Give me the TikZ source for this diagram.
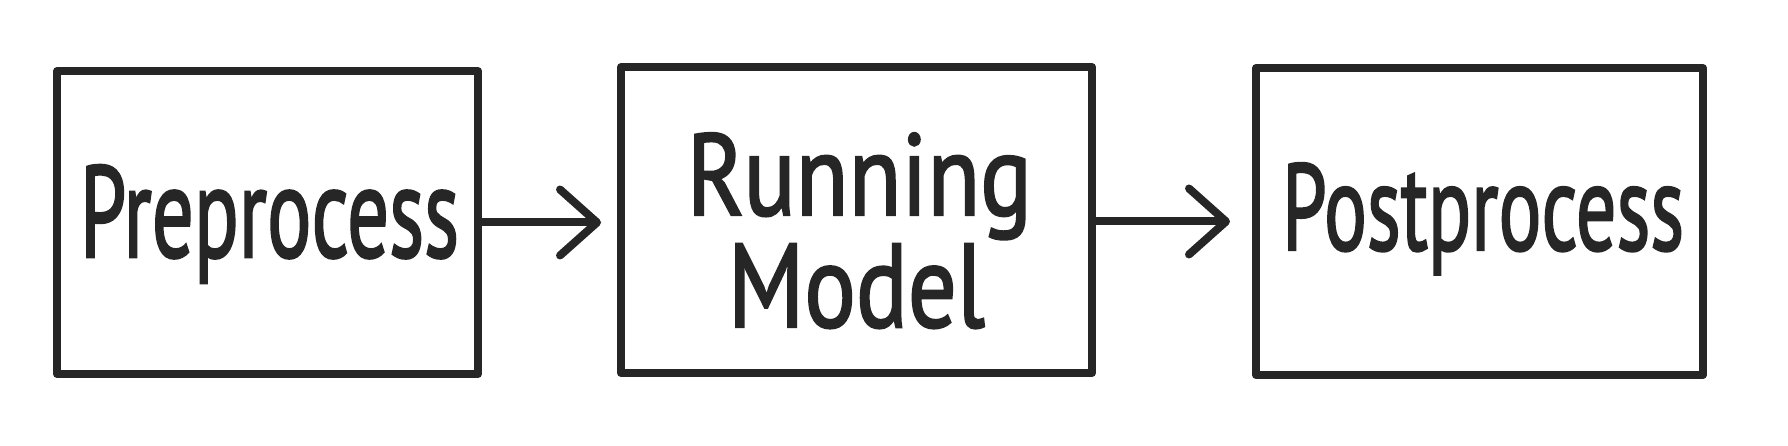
\documentclass[tikz,border=0pt]{standalone}
\usepackage{fontspec}
\newfontfamily\handfont{PT Sans}[FakeBold=2]
\usetikzlibrary{arrows.meta}
\definecolor{ink}{RGB}{38,38,38}
\newcommand{\fitword}[3]{\resizebox{#1}{#2}{\smash{#3}\vphantom{P}}}
\begin{document}
\begin{tikzpicture}[x=1pt,y=1pt,
  stagebox/.style={draw=ink,line width=8pt,line join=round,inner sep=0pt,fill=none},
  label/.style={inner sep=0pt,anchor=base,text=ink,font=\fontsize{120}{120}\handfont},
  flow/.style={draw=ink,line width=8pt,line cap=round,
    -{Straight Barb[length=37pt,width=66pt,line width=8pt,round]}}]
\useasboundingbox (0,0) rectangle (1788,446);
\node[stagebox,minimum width=421pt,minimum height=303pt] (b1) at (267.5,223.5) {};
\node[stagebox,minimum width=471pt,minimum height=306pt] (b2) at (856.5,226) {};
\node[stagebox,minimum width=447pt,minimum height=307pt] (b3) at (1479.5,224.5) {};
\node[label] (t1) at (269.5,189) {\fitword{379pt}{92pt}{Preprocess}};
\node[label] (t2a) at (859.5,231) {\fitword{345pt}{82pt}{Running}};
\node[label] (t2b) at (856.5,119) {\fitword{257pt}{84pt}{Model}};
\node[label] (t3) at (1483,196) {\fitword{402pt}{87pt}{Postprocess}};
\draw[flow,shorten >=16pt] (b1.east) -- (b1.east -| b2.west);
\draw[flow,shorten >=22pt] (b3.west -| b2.east) -- (b3.west);
\end{tikzpicture}
\end{document}
